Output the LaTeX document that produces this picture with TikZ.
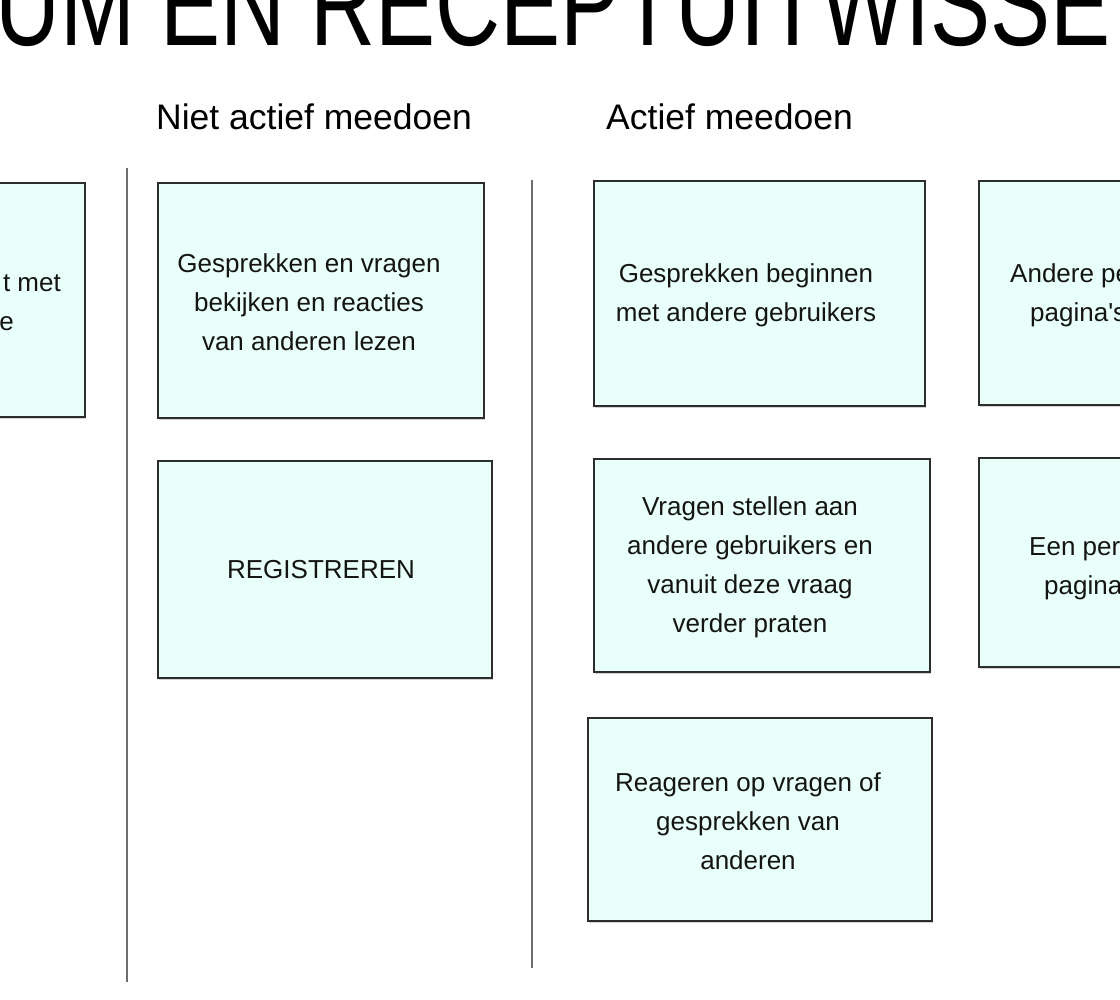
\documentclass[tikz,border=0pt]{standalone}
\usepackage{fontspec}
\setmainfont{Liberation Sans}
\usetikzlibrary{shadows}
\definecolor{cardfill}{RGB}{232,255,250}
\definecolor{cardline}{RGB}{45,45,45}
\definecolor{txt}{RGB}{20,20,20}
\definecolor{divider}{RGB}{110,110,110}
\newcommand{\sq}{\XeTeXglyph\XeTeXcharglyph"0027\relax}
\tikzset{
  card/.style={draw=cardline, line width=1.6pt, fill=cardfill, rectangle, inner sep=0pt,
    drop shadow={shadow xshift=1.2pt, shadow yshift=-1.8pt, opacity=0.35, fill=gray}},
  cardtext/.style={font=\fontsize{26}{39}\selectfont, text=txt, align=center, inner sep=0pt},
  header/.style={font=\fontsize{35.5}{42}\selectfont, text=black, inner sep=0pt, anchor=base west},
  divline/.style={draw=divider, line width=2.4pt}
}
\begin{document}
\begin{tikzpicture}[x=1pt, y=-1pt]
\useasboundingbox (0,0) rectangle (1120,1000);
\clip (0,0) rectangle (1120,1000);
\fill[white] (0,0) rectangle (1120,1000);

% title
\node[inner sep=0pt, anchor=base west, text=black] (title) at (-5,46)
  {\scalebox{1}[1.35]{\fontsize{90}{100}\selectfont UM EN RECEPTUITWISSE}};

% headers
\node[header] (h1) at (156,130) {Niet actief meedoen};
\node[header] (h2) at (606,130) {Actief meedoen};

% dividers
\coordinate (d1t) at (127,168);
\coordinate (d1b) at (127,982);
\coordinate (d2t) at (532,180);
\coordinate (d2b) at (532,968);
\draw[divline] (d1t) -- (d1b);
\draw[divline] (d2t) -- (d2b);

% left partial card
\node[card, minimum width=325pt, minimum height=234pt] (L) at (-77.5,300) {};
\node[cardtext, anchor=base east] (Lt1) at (61,292) {t met};
\node[cardtext, anchor=base east] (Lt2) at (14,331) {e};

% Niet actief meedoen
\node[card, minimum width=326pt, minimum height=235pt] (A) at (321,300.5) {};
\node[cardtext] (At) at (309,302) {Gesprekken en vragen\\bekijken en reacties\\van anderen lezen};

\node[card, minimum width=334pt, minimum height=217pt] (B) at (325,569.5) {};
\node[cardtext] (Bt) at (321,570) {REGISTREREN};

% Actief meedoen
\node[card, minimum width=331pt, minimum height=225pt] (C) at (759.5,293.5) {};
\node[cardtext] (Ct) at (746,295) {Gesprekken beginnen\\met andere gebruikers};

\node[card, minimum width=336pt, minimum height=213pt] (D) at (762,565.5) {};
\node[cardtext] (Dt) at (750,567) {Vragen stellen aan\\andere gebruikers en\\vanuit deze vraag\\verder praten};

\node[card, minimum width=344pt, minimum height=203pt] (E) at (760,819.5) {};
\node[cardtext] (Et) at (748,821) {Reageren op vragen of\\gesprekken van\\anderen};

% right partial cards
\node[card, minimum width=321pt, minimum height=224pt] (F) at (1139.5,293) {};
\node[cardtext, anchor=base west] (Ft1) at (1010,283) {Andere pe};
\node[cardtext, anchor=base west] (Ft2) at (1030,322) {pagina\sq s};

\node[card, minimum width=321pt, minimum height=209pt] (G) at (1139.5,562.5) {};
\node[cardtext, anchor=base west] (Gt1) at (1029,555) {Een per};
\node[cardtext, anchor=base west] (Gt2) at (1044,594) {pagina};
\end{tikzpicture}
\end{document}
